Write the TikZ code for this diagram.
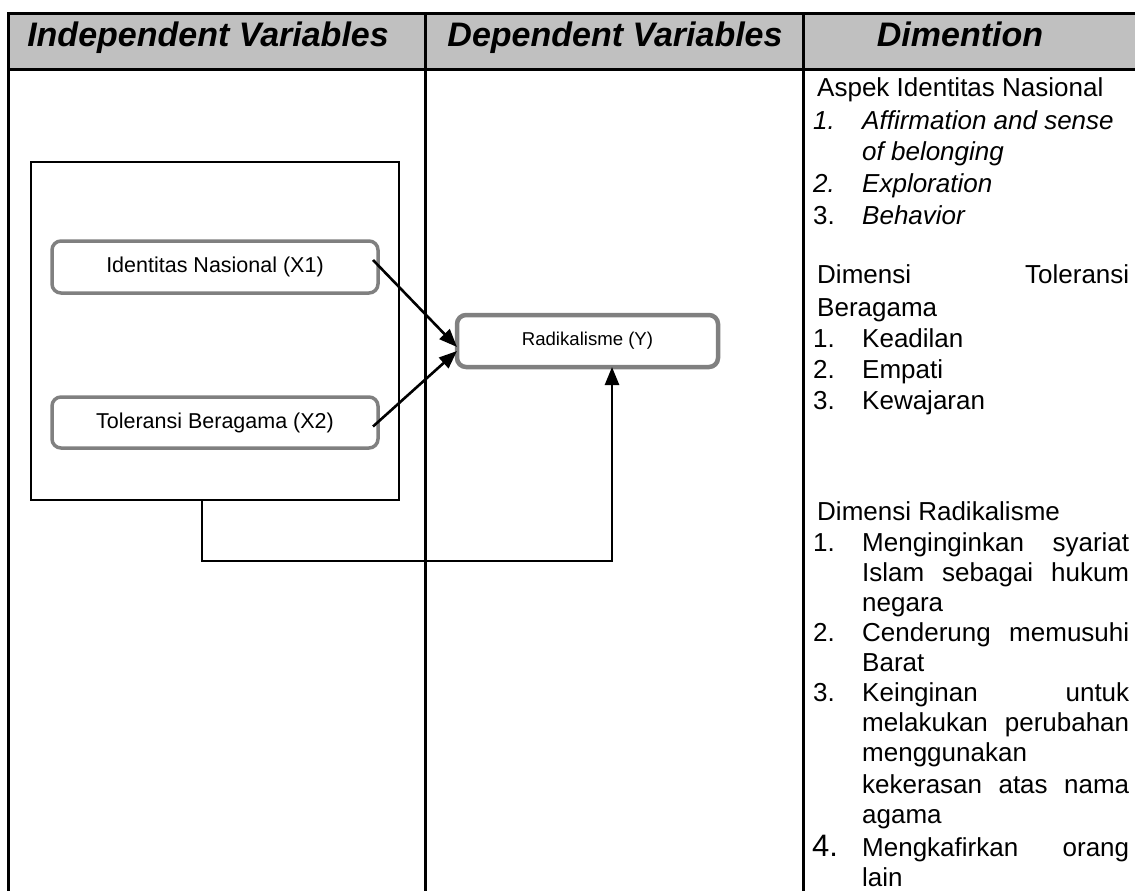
\documentclass[tikz,border=0pt]{standalone}
\usepackage{fontspec}
\setmainfont{Liberation Sans}
\usetikzlibrary{arrows.meta}
\definecolor{hdrgray}{HTML}{C0C0C0}
\definecolor{boxgray}{HTML}{808080}
\tikzset{
  grid/.style={line width=3pt,black},
  varbox/.style={draw=boxgray,line width=3.5pt,rounded corners=9pt,fill=white,inner sep=0pt,outer sep=0pt,
    font=\fontsize{21.5}{24}\selectfont},
  hdr/.style={font=\fontsize{34}{38}\selectfont\bfseries\itshape,anchor=base,inner sep=0pt},
  dtxt/.style={font=\fontsize{26}{30}\selectfont,anchor=base west,inner sep=0pt},
  arr/.style={line width=2.6pt,-{Triangle[length=18pt,width=14pt]}},
}
\begin{document}
\begin{tikzpicture}[x=1pt,y=-1pt]
\useasboundingbox (0,0) rectangle (1135,891);
\clip (0,0) rectangle (1135,891);
% table
\fill[hdrgray] (8.5,14) rectangle (1145,70);
\draw[grid] (8.5,900) -- (8.5,14) -- (1145,14);
\draw[grid] (8.5,70) -- (1145,70);
\draw[grid] (425,14) -- (425,900);
\draw[grid] (803,14) -- (803,900);
% headers
\node[hdr] (h1) at (208,47) {Independent Variables};
\node[hdr] (h2) at (615,47) {Dependent Variables};
\node[hdr] (h3) at (960,47) {Dimention};
% diagram
\node[draw,line width=2.4pt,minimum width=368pt,minimum height=338pt,inner sep=0pt,outer sep=0pt] (grp) at (215,331) {};
\node[varbox,minimum width=326pt,minimum height=52pt] (x1) at (215,267) {Identitas Nasional (X1)};
\node[varbox,minimum width=326pt,minimum height=51pt] (x2) at (215,422.5) {Toleransi Beragama (X2)};
\node[varbox,line width=4.5pt,minimum width=261pt,minimum height=52pt,font=\fontsize{18.6}{22}\selectfont] (y) at (587.5,341) {Radikalisme (Y)};
\draw[arr] ([xshift=-5pt,yshift=7pt]x1.east) -- ([yshift=-6pt]y.west);
\draw[arr] ([xshift=-5pt,yshift=-4pt]x2.east) -- ([yshift=-10pt]y.west);
\draw[arr] ([xshift=-13pt]grp.south) -- ++(0,61) -| ([xshift=24.5pt]y.south);
% dimension column
\node[dtxt] (t1) at (817,96) {Aspek Identitas Nasional};
\node[dtxt] (n1) at (813,129) {\itshape 1.};
\node[dtxt] (a1) at (862,129) {\itshape Affirmation and sense};
\node[dtxt] (a1b) at (862,160) {\itshape of belonging};
\node[dtxt] (n2) at (813,192) {\itshape 2.};
\node[dtxt] (a2) at (862,192) {\itshape Exploration};
\node[dtxt] (n3) at (813,224) {3.};
\node[dtxt] (a3) at (862,224) {\itshape Behavior};
\node[dtxt] (t2) at (817,283) {\hbox to 312pt{Dimensi\hfill Toleransi}};
\node[dtxt] (t2b) at (817,316) {Beragama};
\node[dtxt] (m1) at (813,347) {1.};
\node[dtxt] (b1) at (862,347) {Keadilan};
\node[dtxt] (m2) at (813,378) {2.};
\node[dtxt] (b2) at (862,378) {Empati};
\node[dtxt] (m3) at (813,409) {3.};
\node[dtxt] (b3) at (862,409) {Kewajaran};
\node[dtxt] (t3) at (817,520) {Dimensi Radikalisme};
\node[dtxt] (k1) at (813,551) {1.};
\node[dtxt] (c1) at (862,551) {\hbox to 267pt{Menginginkan\hfill syariat}};
\node[dtxt] (c1b) at (862,581) {\hbox to 267pt{Islam\hfill sebagai\hfill hukum}};
\node[dtxt] (c1c) at (862,611) {negara};
\node[dtxt] (k2) at (813,641) {2.};
\node[dtxt] (c2) at (862,641) {\hbox to 267pt{Cenderung\hfill memusuhi}};
\node[dtxt] (c2b) at (862,671) {Barat};
\node[dtxt] (k3) at (813,701) {3.};
\node[dtxt] (c3) at (862,701) {\hbox to 267pt{Keinginan\hfill untuk}};
\node[dtxt] (c3b) at (862,731) {\hbox to 267pt{melakukan\hfill perubahan}};
\node[dtxt] (c3c) at (862,761) {menggunakan};
\node[dtxt] (c3d) at (862,793) {\hbox to 267pt{kekerasan\hfill atas\hfill nama}};
\node[dtxt] (c3e) at (862,823) {agama};
\node[dtxt,font=\fontsize{31}{34}\selectfont] (k4) at (812,856) {4.};
\node[dtxt] (c4) at (862,856) {\hbox to 267pt{Mengkafirkan\hfill orang}};
\node[dtxt] (c4b) at (862,886) {lain};
\end{tikzpicture}
\end{document}
